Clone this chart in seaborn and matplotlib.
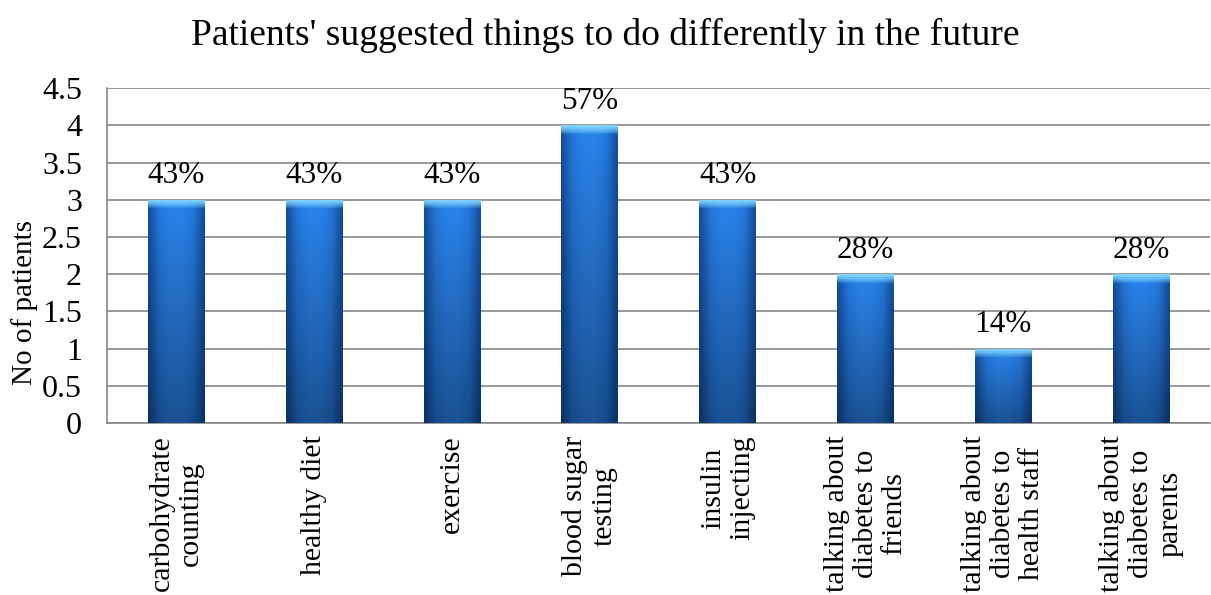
import matplotlib
matplotlib.use("Agg")
import matplotlib.pyplot as plt
import seaborn as sns
import numpy as np
import pandas as pd
from matplotlib.colors import LinearSegmentedColormap

categories = ["carbohydrate\ncounting", "healthy diet", "exercise", "blood sugar\ntesting",
              "insulin\ninjecting", "talking about\ndiabetes to\nfriends",
              "talking about\ndiabetes to\nhealth staff", "talking about\ndiabetes to\nparents"]
patients = [3, 3, 3, 4, 3, 2, 1, 2]
percent_labels = ["43%", "43%", "43%", "57%", "43%", "28%", "14%", "28%"]

sns.set_style("white")
plt.rcParams["font.family"] = ["Liberation Serif", "DejaVu Serif"]
plt.rcParams["text.color"] = "black"
plt.rcParams["xtick.color"] = "black"
plt.rcParams["ytick.color"] = "black"
plt.rcParams["axes.labelcolor"] = "black"

df = pd.DataFrame({"category": categories, "patients": patients})

fig = plt.figure(figsize=(12.11, 5.95), dpi=100)
ax = fig.add_axes([0.0884, 0.289, 0.911, 0.563])

sns.barplot(data=df, x="category", y="patients", color="#2a7fe6", width=0.41, ax=ax,
            zorder=3, edgecolor="none")

ax.set_ylim(0, 4.5)
ax.set_xlim(-0.5, len(categories) - 0.5)
ax.set_yticks(np.arange(0, 4.51, 0.5))
ax.set_yticklabels(["0", "0.5", "1", "1.5", "2", "2.5", "3", "3.5", "4", "4.5"], fontsize=23)
ax.yaxis.grid(True, color="#868686", linewidth=1.2, zorder=0)
ax.set_axisbelow(True)

for s in ["top", "right"]:
    ax.spines[s].set_visible(False)
for s in ["left", "bottom"]:
    ax.spines[s].set_color("#868686")
    ax.spines[s].set_linewidth(1.2)

ax.tick_params(axis="y", direction="out", length=6, color="#868686", width=1.2, pad=12)
# category separators as minor ticks on the x axis
ax.set_xticks(np.arange(len(categories)))
ax.set_xticklabels(categories, rotation=90, ha="center", va="top", fontsize=21.5,
                   multialignment="center", linespacing=1.15)
ax.tick_params(axis="x", length=0, pad=9)
ax.set_xticks(np.arange(0.5, len(categories) - 0.5, 1), minor=True)
ax.tick_params(axis="x", which="minor", direction="out", length=6, color="#868686", width=1.2)
ax.set_xlabel("")
ax.set_ylabel("No of patients", fontsize=21)
ax.yaxis.set_label_coords(-0.063, 0.36)

# glossy gradient on the bars
cmap_h = LinearSegmentedColormap.from_list(
    "h", ["#134d9e", "#2479dd", "#2b84ec", "#2b84ec", "#2479dd", "#134d9e"])
cap_color = np.array([0.50, 0.83, 0.99])
px_per_unit = 595 * 0.563 / 4.5
for p, lab in zip(ax.patches, percent_labels):
    x0, w, h = p.get_x(), p.get_width(), p.get_height()
    n = int(h * px_per_unit)
    grad = np.tile(np.linspace(0, 1, 80), (n, 1))
    rgb = cmap_h(grad)[:, :, :3]
    vert = np.linspace(0.62, 1.0, n)[:, None, None]
    rgb = rgb * vert
    cap = 9
    for i in range(cap):
        t = (i / cap) ** 1.5
        rgb[n - 1 - i] = cap_color * (1 - t) + rgb[n - 1 - i] * t
    img = ax.imshow(rgb, extent=(x0, x0 + w, 0, h), origin="lower", aspect="auto",
                    zorder=4, interpolation="bilinear")
    img.set_clip_path(p)
    p.set_facecolor("none")
    ax.text(x0 + w / 2, h + 0.22, lab, ha="center", va="baseline", fontsize=22.5, zorder=5)

ax.set_xlim(-0.5, len(categories) - 0.5)
ax.set_ylim(0, 4.5)

fig.text(0.5, 0.924, "Patients' suggested things to do differently in the future",
         ha="center", va="baseline", fontsize=27)

fig.savefig("out.png", dpi=100)
